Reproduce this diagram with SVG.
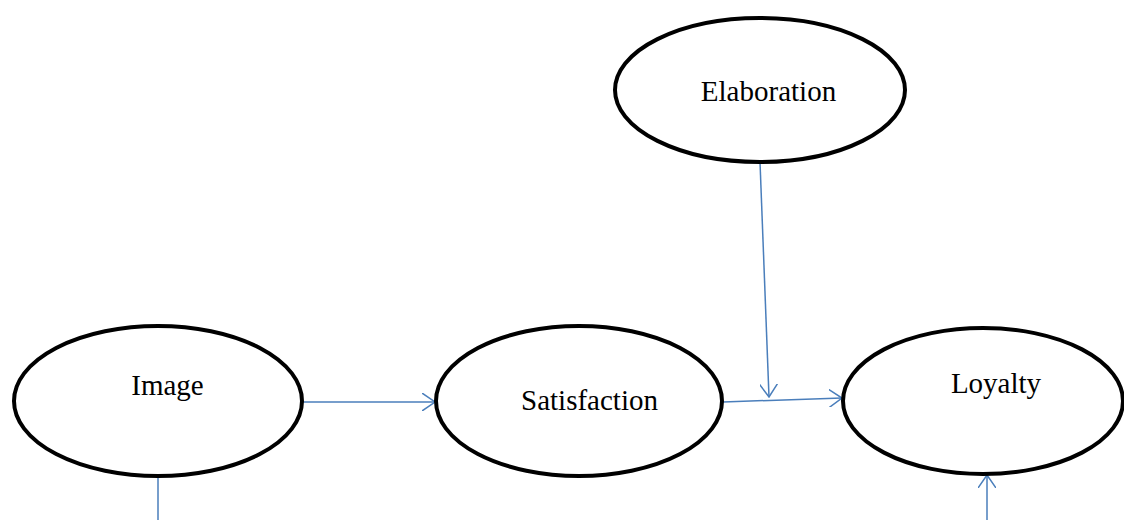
<svg xmlns="http://www.w3.org/2000/svg" width="1124" height="520" viewBox="0 0 1124 520">
<style>
.node ellipse{fill:#fff;stroke:#000;stroke-width:4}
.node text{font-family:'Liberation Serif','Times New Roman','DejaVu Serif',serif;font-size:29px;fill:#000;text-anchor:middle}
.conn line{stroke:#4a7ebb;stroke-width:1.5;fill:none}
</style>
<defs>
<marker id="arr" viewBox="0 0 14 18" refX="13" refY="9" markerWidth="14" markerHeight="18" markerUnits="userSpaceOnUse" orient="auto">
<path d="M0,0 L13,9 L0,18" fill="none" stroke="#4a7ebb" stroke-width="1.5"/>
</marker>
</defs>
<rect width="1124" height="520" fill="#fff"/>
<g id="connectors" class="conn">
<line x1="303" y1="402" x2="435" y2="402" marker-end="url(#arr)"/>
<line x1="723" y1="402" x2="842" y2="398" marker-end="url(#arr)"/>
<line x1="760" y1="162" x2="769" y2="397" marker-end="url(#arr)"/>
<line x1="158" y1="476" x2="158" y2="520"/>
<line x1="987" y1="520" x2="987" y2="475" marker-end="url(#arr)"/>
</g>
<g id="image" class="node">
<ellipse cx="158" cy="401" rx="144" ry="75"/>
<text x="167.5" y="395" font-family="Liberation Serif, serif">Image</text>
</g>
<g id="satisfaction" class="node">
<ellipse cx="579" cy="401" rx="143" ry="75"/>
<text x="589.5" y="410" font-family="Liberation Serif, serif">Satisfaction</text>
</g>
<g id="loyalty" class="node">
<ellipse cx="983" cy="401" rx="140" ry="73"/>
<text x="996" y="393" font-family="Liberation Serif, serif">Loyalty</text>
</g>
<g id="elaboration" class="node">
<ellipse cx="760" cy="90" rx="145" ry="72"/>
<text x="768.5" y="101" font-family="Liberation Serif, serif">Elaboration</text>
</g>
</svg>
